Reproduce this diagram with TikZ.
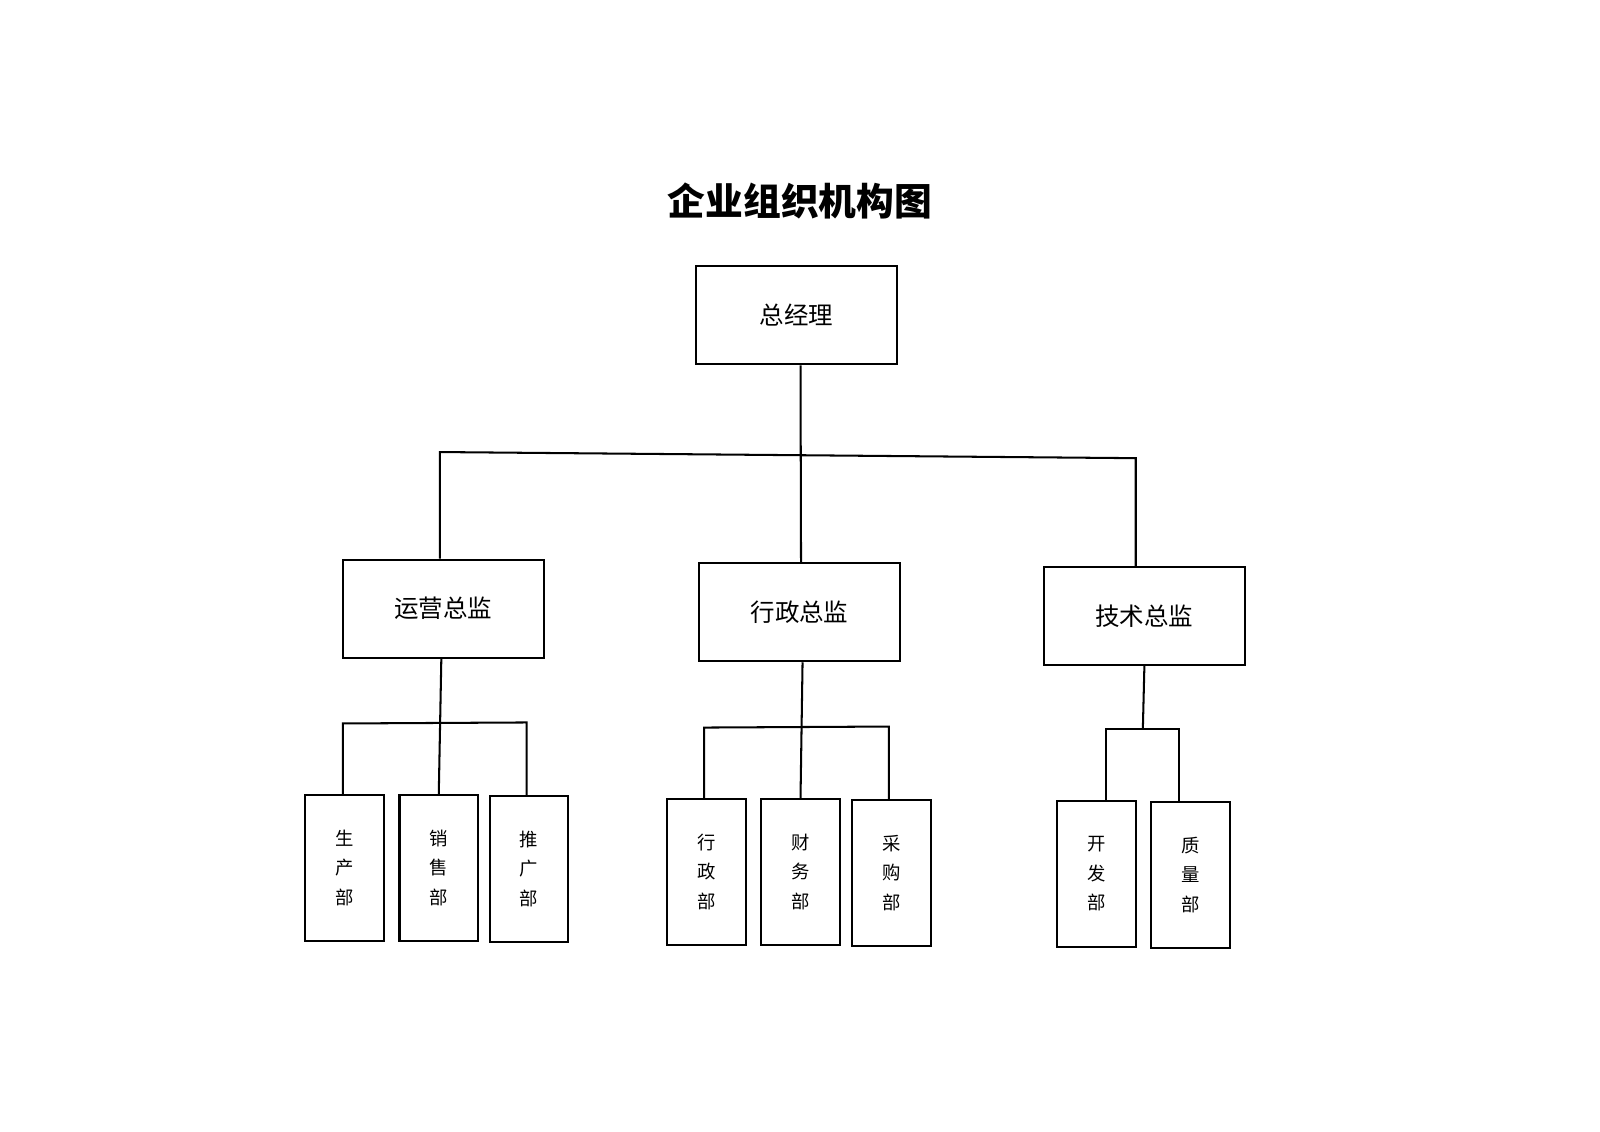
\documentclass[tikz,border=0pt]{standalone}
\usepackage{fontspec}
\newfontfamily\cjk{Noto Sans CJK SC}
\begin{document}
\begin{tikzpicture}[x=1pt,y=-1pt,line width=2pt,
  bigbox/.style={draw,rectangle,inner sep=0pt,minimum width=197pt,minimum height=96pt,font=\cjk\fontsize{24}{28}\selectfont},
  smallbox/.style={draw,rectangle,inner sep=0pt,minimum width=77pt,minimum height=143pt,align=center,font=\cjk\fontsize{18}{29}\selectfont},
  conn/.style={draw,line width=2pt}]
\useasboundingbox (0,0) rectangle (1568,1108.4);
\node[font=\cjk\bfseries\fontsize{37}{40}\selectfont] (title) at (784,197) {企业组织机构图};
\node[bigbox] (zjl) at (780.5,309) {总经理};
\node[bigbox] (yy) at (434.5,596.5) {运营总监};
\node[bigbox] (xz) at (783.5,600) {行政总监};
\node[bigbox] (js) at (1121.5,603.5) {技术总监};
\node[smallbox] (scb) at (337.5,850.5) {生\\产\\部};
\node[smallbox] (xsb) at (430,850.5) {销\\售\\部};
\node[smallbox] (tgb) at (518.5,851.5) {推\\广\\部};
\node[smallbox] (xzb) at (692.5,854.5) {行\\政\\部};
\node[smallbox] (cwb) at (784.5,854.5) {财\\务\\部};
\node[smallbox] (cgb) at (873.5,855.5) {采\\购\\部};
\node[smallbox] (kfb) at (1074.5,856.5) {开\\发\\部};
\node[smallbox] (zlb) at (1166.5,857.5) {质\\量\\部};
\coordinate (hL) at (431,443);
\coordinate (hR) at (1113,449);
\coordinate (aL) at (336,709);
\coordinate (aR) at (516,708);
\coordinate (bL) at (690,713);
\coordinate (bR) at (871,712);
\coordinate (cJ) at (1120,714);
\coordinate (cL) at (1084,714);
\coordinate (cR) at (1155,714);
\draw[conn] ([xshift=4pt]zjl.south) -- ([xshift=1.5pt]xz.north);
\draw[conn] (hL |- yy.north) -- (hL) -- (hR) -- (hR |- js.north);
\draw[conn] ([xshift=-2pt]yy.south) -- (xsb.north);
\draw[conn] (aL |- scb.north) -- (aL) -- (aR) -- (aR |- tgb.north);
\draw[conn] ([xshift=3pt]xz.south) -- (cwb.north);
\draw[conn] (bL |- xzb.north) -- (bL) -- (bR) -- (bR |- cgb.north);
\draw[conn] (js.south) -- (cJ);
\draw[conn] (cL |- kfb.north) -- (cL) -- (cR) -- (cR |- zlb.north);
\end{tikzpicture}
\end{document}
